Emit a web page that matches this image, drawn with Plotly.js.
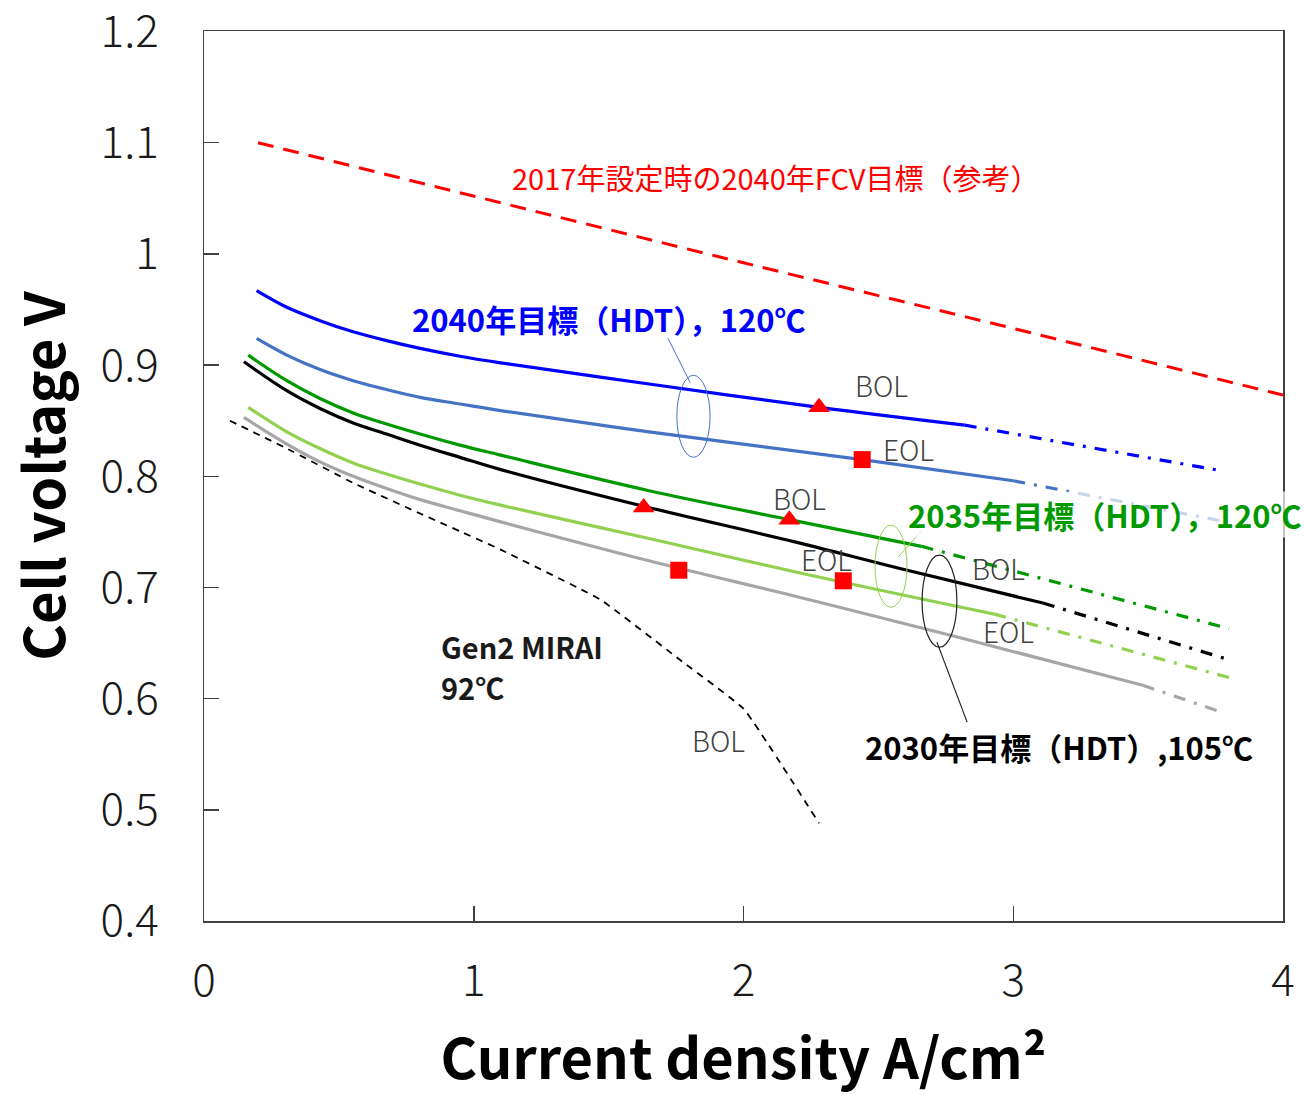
<!DOCTYPE html>
<html>
<head>
<meta charset="utf-8">
<script src="https://cdn.plot.ly/plotly-3.0.1.min.js"></script>
<style>html,body{margin:0;padding:0;background:#fff}</style>
</head>
<body>
<div id="chart" style="width:1304px;height:1095px"></div>
<script>
// ---- data (current density A/cm2, cell voltage V) ----
const target2017_x = [0.2, 1.0, 2.0, 3.0, 4.0];
const target2017_y = [1.100, 1.052, 0.992, 0.933, 0.873];

const bol2040_x = [0.195, 0.307, 0.43, 0.553, 0.677, 0.801, 0.949, 1.1, 1.65, 2.28, 2.82];
const bol2040_y = [0.967, 0.952, 0.940, 0.930, 0.922, 0.915, 0.908, 0.902, 0.883, 0.862, 0.846];
const bol2040_ext_x = [2.82, 3.77];
const bol2040_ext_y = [0.846, 0.805];

const eol2040_x = [0.195, 0.307, 0.43, 0.553, 0.677, 0.801, 0.949, 1.1, 1.65, 2.44, 3.0];
const eol2040_y = [0.924, 0.909, 0.896, 0.886, 0.878, 0.871, 0.865, 0.859, 0.840, 0.815, 0.796];
const eol2040_ext_x = [3.0, 3.77];
const eol2040_ext_y = [0.796, 0.760];

const bol2035_x = [0.164, 0.307, 0.43, 0.553, 0.677, 0.801, 0.949, 1.1, 1.65, 2.17, 2.66];
const bol2035_y = [0.909, 0.886, 0.870, 0.857, 0.847, 0.838, 0.828, 0.819, 0.787, 0.761, 0.737];
const bol2035_ext_x = [2.66, 3.8];
const bol2035_ext_y = [0.737, 0.663];

const eol2035_x = [0.164, 0.307, 0.43, 0.553, 0.677, 0.801, 0.949, 1.1, 1.65, 2.21, 2.93];
const eol2035_y = [0.862, 0.840, 0.825, 0.812, 0.802, 0.793, 0.783, 0.774, 0.744, 0.713, 0.676];
const eol2035_ext_x = [2.93, 3.8];
const eol2035_ext_y = [0.676, 0.619];

const bol2030_x = [0.148, 0.307, 0.43, 0.553, 0.677, 0.801, 0.949, 1.1, 1.63, 2.19, 2.58, 3.11];
const bol2030_y = [0.903, 0.877, 0.861, 0.848, 0.838, 0.828, 0.817, 0.806, 0.773, 0.741, 0.717, 0.686];
const bol2030_ext_x = [3.11, 3.8];
const bol2030_ext_y = [0.686, 0.635];

const eol2030_x = [0.148, 0.307, 0.43, 0.553, 0.677, 0.801, 0.949, 1.1, 1.65, 2.21, 2.8, 3.48];
const eol2030_y = [0.853, 0.829, 0.813, 0.800, 0.789, 0.779, 0.769, 0.759, 0.724, 0.691, 0.655, 0.612];
const eol2030_ext_x = [3.48, 3.77];
const eol2030_ext_y = [0.612, 0.588];

const mirai_x = [0.096, 0.307, 0.553, 0.801, 0.949, 1.1, 1.47, 1.78, 2.0, 2.28];
const mirai_y = [0.850, 0.825, 0.794, 0.7665, 0.7505, 0.734, 0.689, 0.632, 0.591, 0.488];

const bolMarker_x = [2.28, 2.17, 1.63];
const bolMarker_y = [0.862, 0.761, 0.772];
const eolMarker_x = [2.44, 2.37, 1.76];
const eolMarker_y = [0.815, 0.706, 0.7155];

const xTicks = [0, 1, 2, 3, 4];
const yTicks = [0.4, 0.5, 0.6, 0.7, 0.8, 0.9, 1.0, 1.1, 1.2];
const yTickText = ['0.4', '0.5', '0.6', '0.7', '0.8', '0.9', '1', '1.1', '1.2'];

// ---- styles ----
const JP = '"Noto Sans CJK JP", "Noto Sans", sans-serif';
const DASHDOT = '12px,9px,3px,9px';
const C_BLUE = '#0000FF', C_STEEL = '#4472C4', C_GREEN = '#009900',
      C_LGREEN = '#92D050', C_BLACK = '#000000', C_GRAY = '#A6A6A6', C_RED = '#FF0000';

function solid(x, y, color) {
  return {x: x, y: y, mode: 'lines', line: {color: color, width: 3.2, shape: 'spline', smoothing: 1.0}, hoverinfo: 'skip'};
}
function ext(x, y, color) {
  return {x: x, y: y, mode: 'lines', line: {color: color, width: 3.2, dash: DASHDOT}, hoverinfo: 'skip'};
}

const traces = [
  {x: target2017_x, y: target2017_y, mode: 'lines', line: {color: C_RED, width: 3, dash: '16px,10px'}},
  {x: mirai_x, y: mirai_y, mode: 'lines', line: {color: C_BLACK, width: 1.8, dash: '7px,6px', shape: 'spline', smoothing: 0.3}},
  solid(eol2030_x, eol2030_y, C_GRAY), ext(eol2030_ext_x, eol2030_ext_y, C_GRAY),
  solid(eol2035_x, eol2035_y, C_LGREEN), ext(eol2035_ext_x, eol2035_ext_y, C_LGREEN),
  solid(bol2030_x, bol2030_y, C_BLACK), ext(bol2030_ext_x, bol2030_ext_y, C_BLACK),
  solid(bol2035_x, bol2035_y, C_GREEN), ext(bol2035_ext_x, bol2035_ext_y, C_GREEN),
  solid(eol2040_x, eol2040_y, C_STEEL), ext(eol2040_ext_x, eol2040_ext_y, C_STEEL),
  solid(bol2040_x, bol2040_y, C_BLUE), ext(bol2040_ext_x, bol2040_ext_y, C_BLUE),
  {x: bolMarker_x, y: bolMarker_y, mode: 'markers', marker: {symbol: 'triangle-up', size: 19, color: C_RED}},
  {x: eolMarker_x, y: eolMarker_y, mode: 'markers', marker: {symbol: 'square', size: 17, color: C_RED}}
];

const lblFont = {family: JP, size: 28, color: '#404040', weight: 300};
function lbl(text, x, y) {
  return {text: text, x: x, y: y, xref: 'x', yref: 'y', showarrow: false, font: lblFont};
}
const boldBlack = {family: JP, size: 29, color: '#1a1a1a', weight: 'bold'};

const annotations = [
  {text: '2017年設定時の2040年FCV目標（参考）', x: 2.12, y: 1.069, xref: 'x', yref: 'y', showarrow: false,
   font: {family: JP, size: 29, color: C_RED}},
  {text: '2040年目標（HDT），120℃', x: 0.764, y: 0.942, xref: 'x', yref: 'y', xanchor: 'left', showarrow: false,
   font: {family: JP, size: 31, color: C_BLUE, weight: 'bold'}},
  {text: '2035年目標（HDT），120℃', x: 2.606, y: 0.7658, xref: 'x', yref: 'y', xanchor: 'left', showarrow: false,
   bgcolor: 'rgba(255,255,255,0.7)', borderpad: 0,
   font: {family: JP, size: 31, color: C_GREEN, weight: 'bold'}},
  {text: '2030年目標（HDT）,105℃', x: 2.443, y: 0.5573, xref: 'x', yref: 'y', xanchor: 'left', showarrow: false,
   font: {family: JP, size: 31, color: C_BLACK, weight: 'bold'}},
  {text: 'Gen2 MIRAI', x: 0.875, y: 0.6475, xref: 'x', yref: 'y', xanchor: 'left', yanchor: 'middle', showarrow: false,
   borderpad: 0, font: boldBlack},
  {text: '92℃', x: 0.875, y: 0.6105, xref: 'x', yref: 'y', xanchor: 'left', yanchor: 'middle', showarrow: false,
   borderpad: 0, font: boldBlack},
  lbl('BOL', 2.51, 0.8818), lbl('EOL', 2.613, 0.8243),
  lbl('BOL', 2.209, 0.7802), lbl('EOL', 2.306, 0.7254),
  lbl('BOL', 2.947, 0.7173), lbl('EOL', 2.984, 0.6607),
  lbl('BOL', 1.909, 0.5627)
];

const shapes = [
  {type: 'circle', xref: 'x', yref: 'y', x0: 1.753, x1: 1.876, y0: 0.8171, y1: 0.8908, line: {color: C_STEEL, width: 1}},
  {type: 'line', xref: 'x', yref: 'y', x0: 1.720, y0: 0.9241, x1: 1.802, y1: 0.8845, line: {color: C_STEEL, width: 1}},
  {type: 'circle', xref: 'x', yref: 'y', x0: 2.4875, x1: 2.606, y0: 0.6822, y1: 0.7560, line: {color: C_LGREEN, width: 1}},
  {type: 'line', xref: 'x', yref: 'y', x0: 2.662, y0: 0.7515, x1: 2.573, y1: 0.7272, line: {color: C_LGREEN, width: 1}},
  {type: 'circle', xref: 'x', yref: 'y', x0: 2.662, x1: 2.791, y0: 0.6463, y1: 0.729, line: {color: '#222', width: 1.2}},
  {type: 'line', xref: 'x', yref: 'y', x0: 2.717, y0: 0.6508, x1: 2.829, y1: 0.5789, line: {color: '#222', width: 1.2}}
];

const axisCommon = {
  showgrid: false, zeroline: false, showline: true, mirror: true,
  linecolor: '#404040', linewidth: 1.5, ticks: 'inside', ticklen: 15, tickwidth: 1.5, tickcolor: '#404040',
  tickfont: {family: JP, size: 44, color: '#1a1a1a', weight: 300}, ticklabeloverflow: 'allow'
};

const layout = {
  width: 1304, height: 1095,
  margin: {l: 204, r: 21, t: 31, b: 174},
  paper_bgcolor: '#fff', plot_bgcolor: '#fff',
  showlegend: false,
  xaxis: Object.assign({}, axisCommon, {
    range: [0, 4], tickvals: xTicks, ticktext: xTicks.map(String), ticklabelstandoff: 21,
    title: {text: 'Current density A/cm²', font: {family: JP, size: 56, color: '#000', weight: 'bold'}, standoff: 40}
  }),
  yaxis: Object.assign({}, axisCommon, {
    range: [0.4, 1.2005], tickvals: yTicks, ticktext: yTickText, ticklabelstandoff: 35,
    title: {text: 'Cell voltage V', font: {family: JP, size: 56, color: '#000', weight: 'bold'}, standoff: 32}
  }),
  annotations: annotations,
  shapes: shapes
};

Plotly.newPlot('chart', traces, layout, {displayModeBar: false, staticPlot: true});
</script>
</body>
</html>
